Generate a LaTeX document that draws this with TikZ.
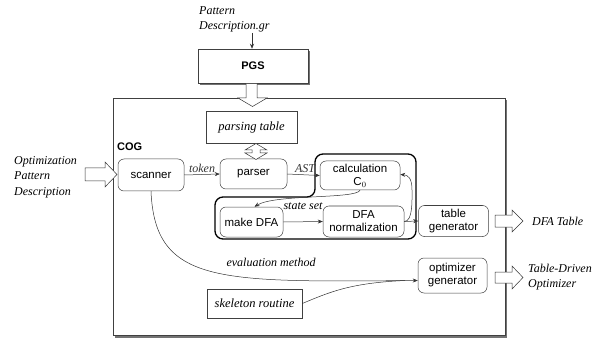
\documentclass[tikz,border=0pt]{standalone}
\usepackage{fontspec}
\setmainfont{Liberation Serif}
\setsansfont{Liberation Sans}
\usetikzlibrary{arrows.meta,calc}
\begin{document}
\begin{tikzpicture}[x=1pt,y=-1pt,
  box/.style={draw=black!75,line width=0.5pt,rounded corners=6pt,align=center,
     font=\sffamily\fontsize{11.5}{13}\selectfont,inner sep=1pt},
  sqbox/.style={draw=black!75,line width=0.5pt,align=center,
     font=\itshape\fontsize{12.5}{14}\selectfont,inner sep=1pt},
  lbl/.style={font=\itshape\fontsize{12}{14}\selectfont,inner sep=1pt},
  ar/.style={-{Stealth[length=5pt,width=4pt]},line width=0.5pt,black!80},
  hollow/.style={draw=black!80,fill=white,line width=0.5pt,line join=miter},
  shadowline/.style={draw=black!55,line width=1.6pt}
]
\useasboundingbox (0,0) rectangle (610,339);

% big COG frame
\draw[shadowline] (506.5,100) -- (506.5,337) -- (115,337);
\draw[draw=black!75,line width=0.5pt] (113,98) rectangle (505,335);
\node[font=\sffamily\bfseries\fontsize{11}{13}\selectfont,anchor=west,inner sep=0pt] (cog) at (117,147) {COG};

% PGS
\draw[shadowline] (309.5,51) -- (309.5,84.5) -- (200,84.5);
\node[draw=black!75,line width=0.5pt,minimum width=110pt,minimum height=34pt,
  font=\sffamily\bfseries\fontsize{11}{13}\selectfont] (pgs) at (253,66) {PGS};

\node[lbl,align=left,anchor=west,font=\itshape\fontsize{12}{15}\selectfont] (pd) at (198,19) {Pattern\\Description.gr};
\coordinate (pdend) at (252,33);
\draw[ar] (pdend) -- (pdend |- pgs.north);

% boxes
\node[sqbox,minimum width=91pt,minimum height=32pt] (parsing) at (251.5,127) {parsing table};
\node[box,minimum width=66pt,minimum height=32pt] (scanner) at (151,175) {scanner};
\node[box,minimum width=67pt,minimum height=30pt] (parser) at (253.5,174) {parser};
\node[box,minimum width=80pt,minimum height=29pt] (calc) at (360,175.5) {calculation\\C$_0$};
\node[box,minimum width=63pt,minimum height=30pt] (makedfa) at (251.5,222) {make DFA};
\node[box,minimum width=81pt,minimum height=31pt] (dfanorm) at (363.5,221.5) {DFA\\normalization};
\node[box,minimum width=70pt,minimum height=31pt] (tablegen) at (453.5,221) {table\\generator};
\node[box,minimum width=69pt,minimum height=35pt] (optgen) at (452.5,275.5) {optimizer\\generator};
\node[sqbox,minimum width=95pt,minimum height=29pt] (skeleton) at (254.5,303.5) {skeleton routine};

% thick L-shaped group
\draw[line width=1.3pt,rounded corners=8pt] (315,154) -- (416,154) -- (416,239) -- (215,239) -- (215,197) -- (315,197) -- cycle;

% hollow arrows
\draw[hollow] (246,84) -- (246,98) -- (238,98) -- (252.5,106.5) -- (267,98) -- (257,98) -- (257,84);
\draw[hollow] (252,150) -- (245,150) -- (256,143.5) -- (267,150) -- (260,150) -- (260,153) -- (267,153) -- (256,159.5) -- (245,153) -- (252,153) -- cycle;
\draw[hollow] (85,168) -- (105,168) -- (105,162) -- (117,174.5) -- (105,187) -- (105,181) -- (85,181) -- cycle;
\draw[hollow] (495,215) -- (512,215) -- (512,210) -- (523,221) -- (512,232) -- (512,227) -- (495,227) -- cycle;
\draw[hollow] (495,272) -- (512,272) -- (512,266) -- (523,277.5) -- (512,289) -- (512,283) -- (495,283) -- cycle;

% outside labels
\node[lbl,align=left,anchor=west,font=\itshape\fontsize{12}{15.5}\selectfont] (opd) at (13,177) {Optimization\\Pattern\\Description};
\node[lbl,anchor=west] (dfatable) at (531,221) {DFA Table};
\node[lbl,align=left,anchor=west,font=\itshape\fontsize{12}{14.5}\selectfont] (tdo) at (527,277) {Table-Driven\\Optimizer};

% connectors
\draw[ar] (scanner.east) -- node[lbl,above=1pt] (tok) {token} (parser.west);
\draw[ar] (parser.east) -- node[lbl,above=1pt,pos=0.55] (ast) {AST} (calc.west);
\draw[ar] (calc.south) .. controls ($(calc.south)+(-4,9)$) and (275,194) .. ($(makedfa.north)+(3,0)$);
\node[lbl] (stateset) at (303,206) {state set};
\draw[ar] (makedfa.east) -- (dfanorm.west);
\draw[ar] (dfanorm.east) .. controls (413,221.5) and (412,200) .. (412,190) .. controls (412,178) and (408,175) .. ($(calc.east)+(0,-1)$);
\draw[ar] (dfanorm.east) -- (tablegen.west);
\draw[ar] (scanner.south) .. controls (155,285) and (220,282) .. ($(optgen.west)+(0,5)$);
\node[lbl] (evm) at (271,262) {evaluation method};
\draw[line width=0.5pt,black!80] (skeleton.east) .. controls (330,292) and (350,283) .. (405,280.5);
\end{tikzpicture}
\end{document}
